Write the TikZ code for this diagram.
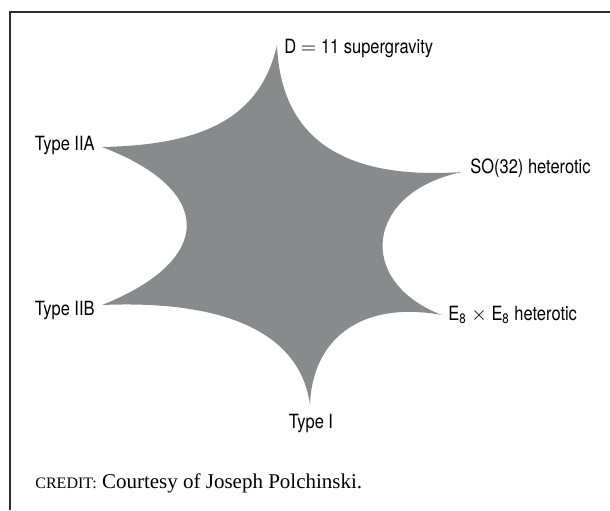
\documentclass[tikz,border=0pt]{standalone}
\usepackage{fontspec}
\setmainfont{Liberation Serif}
\newfontfamily\labelfont[FakeStretch=0.84]{TeX Gyre Heros}
\usepackage{tikz}
\usetikzlibrary{positioning}
\usepackage{xcolor}
\definecolor{stargray}{RGB}{137,138,140}
\definecolor{framegray}{RGB}{45,45,45}
\tikzset{
  theory/.style={inner sep=0pt,font=\labelfont\fontsize{9.8}{11}\selectfont},
}

\begin{document}
\begin{tikzpicture}[x=0.5pt,y=-0.5pt]
        \useasboundingbox (0,0) rectangle (610,510);
        % Frame
        \draw[framegray,line width=1pt] (10,510) -- (10,12) -- (610,12);
        % Tips of the star
        \coordinate (sugra) at (277,45);
        \coordinate (so)    at (462,172);
        \coordinate (ee)    at (442,315);
        \coordinate (one)   at (310,405);
        \coordinate (iib)   at (102,305);
        \coordinate (iia)   at (102,147);
        % Moduli space
        \fill[stargray] (sugra)
          .. controls (281,140) and (345,180) .. (so)
          .. controls (365,192) and (355,282) .. (ee)
          .. controls (360,300) and (312,340) .. (one)
          .. controls (300,330) and (220,300) .. (iib)
          .. controls (215,260) and (215,190) .. (iia)
          .. controls (200,145) and (260,120) .. (sugra) -- cycle;
        % Labels
        \node[theory,anchor=base west] (sugralbl) at (284,53)  {D $=$ 11 supergravity};
        \node[theory,anchor=base west] (solbl)    at (470,173) {SO(32) heterotic};
        \node[theory,anchor=base west] (eelbl)    at (448,320) {E\textsubscript{8} $\times$ E\textsubscript{8} heterotic};
        \node[theory,anchor=base]      (onelbl)   at (311,428) {Type I};
        \node[theory,anchor=base east] (iiblbl)   at (95,315)  {Type IIB};
        \node[theory,anchor=base east] (iialbl)   at (95,150)  {Type IIA};
        % Credit
        \node[inner sep=0pt,anchor=base west,font=\fontsize{10.5}{12}\selectfont] (credit) at (35,488)
          {{\fontsize{8}{9}\selectfont CREDIT:} Courtesy of Joseph Polchinski.};
      \end{tikzpicture}
\end{document}
